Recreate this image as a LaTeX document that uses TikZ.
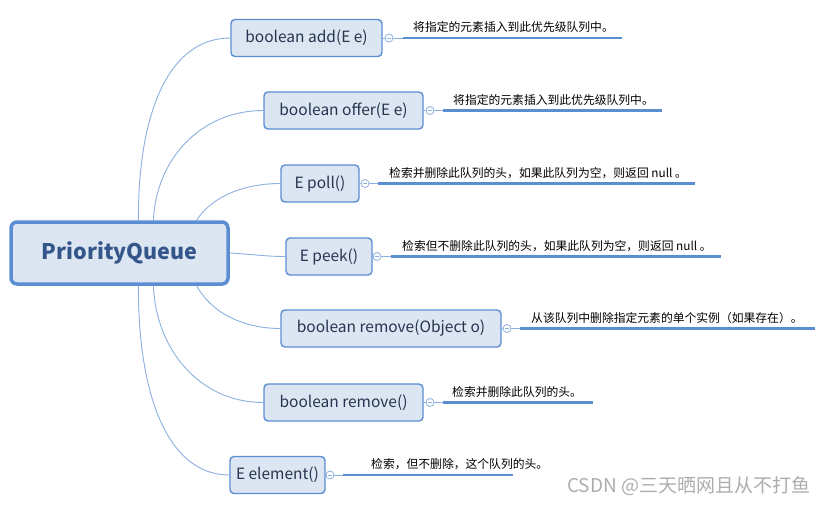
\documentclass[tikz,border=0pt]{standalone}
\usepackage{fontspec}
\setmainfont{Noto Sans CJK SC}
\usepackage{tikz}

\definecolor{boxfill}{HTML}{DCE6F2}
\definecolor{boxline}{HTML}{5B8DD3}
\definecolor{linkline}{HTML}{8CB0E0}
\definecolor{boxtext}{HTML}{26344F}
\definecolor{roottext}{HTML}{34558A}

\tikzset{
  rootbox/.style={draw=boxline, line width=3.5pt, fill=boxfill, rounded corners=6pt,
    inner sep=0pt, text=roottext, font=\fontsize{21.5}{25}\selectfont\bfseries},
  topic/.style={draw=boxline, line width=1.4pt, fill=boxfill, rounded corners=4pt,
    inner sep=0pt, minimum height=37pt, text=boxtext, font=\fontsize{15.5}{18}\selectfont},
  link/.style={draw=linkline, line width=0.9pt},
  fold/.style={circle, draw=linkline, fill=white, line width=0.8pt, minimum size=8pt, inner sep=0pt},
  underline/.style={draw=boxline, line width=2.4pt},
  note/.style={anchor=base west, inner sep=0pt, font=\fontsize{11.8}{14}\selectfont}
}

\begin{document}
\begin{tikzpicture}[x=1pt,y=-1pt]
\useasboundingbox (0,0) rectangle (834,504);

% root
\node[rootbox, minimum width=217pt, minimum height=62pt] (root) at (119.5,253) {PriorityQueue};

% methods
\node[topic, minimum width=151pt] (add) at (306.5,38) {boolean add(E e)};
\node[topic, minimum width=159pt] (offer) at (343.5,110.5) {boolean offer(E e)};
\node[topic, minimum width=78pt] (poll) at (320,183.5) {E poll()};
\node[topic, minimum width=86pt] (peek) at (329,256.5) {E peek()};
\node[topic, minimum width=220pt] (removeobj) at (391,328.5) {boolean remove(Object o)};
\node[topic, minimum width=159pt] (remove) at (343.5,402.5) {boolean remove()};
\node[topic, minimum width=95pt] (element) at (277.5,475) {E element()};

% branches
\draw[link] (root.60) .. controls (138,110) and (170,38) .. (add.west);
\draw[link] (root.44) .. controls (156,160) and (200,110.5) .. (offer.west);
\draw[link] (root.23) .. controls (212,196) and (245,183.5) .. (poll.west);
\draw[link] (root.east) .. controls (250,254) and (265,256.5) .. (peek.west);
\draw[link] (root.-23) .. controls (212,314) and (245,328.5) .. (removeobj.west);
\draw[link] (root.-44) .. controls (156,350) and (200,402.5) .. (remove.west);
\draw[link] (root.-60) .. controls (138,400) and (170,475) .. (element.west);

% fold marks
\node[fold] (addf) at (389,38) {};
\node[fold] (offerf) at (430,110.5) {};
\node[fold] (pollf) at (365,183.5) {};
\node[fold] (peekf) at (377,256.5) {};
\node[fold] (removeobjf) at (507,328.5) {};
\node[fold] (removef) at (430,402.5) {};
\node[fold] (elementf) at (330,475) {};
\foreach \f in {addf,offerf,pollf,peekf,removeobjf,removef,elementf}
  \draw[linkline, line width=0.8pt] ([xshift=-2pt]\f.center) -- ([xshift=2pt]\f.center);

\coordinate (addl) at (403,38);
\coordinate (addr) at (622,38);
\coordinate (offerl) at (443,110.5);
\coordinate (offerr) at (662,110.5);
\coordinate (polll) at (378,183.5);
\coordinate (pollr) at (695,183.5);
\coordinate (peekl) at (391,256.5);
\coordinate (peekr) at (721,256.5);
\coordinate (removeobjl) at (520,328.5);
\coordinate (removeobjr) at (815,328.5);
\coordinate (removel) at (443,402.5);
\coordinate (remover) at (593,402.5);
\coordinate (elementl) at (343,475);
\coordinate (elementr) at (513,475);

\foreach \m in {add,offer,poll,peek,removeobj,remove,element}{
  \draw[link] (\m.east) -- (\m f.west);
  \draw[link] (\m f.east) -- (\m l);
  \draw[underline] (\m l) -- (\m r);
}

% descriptions
\node[note] (addn) at (413,31.5) {将指定的元素插入到此优先级队列中。};
\node[note] (offern) at (453,104) {将指定的元素插入到此优先级队列中。};
\node[note] (polln) at (389,177) {检索并删除此队列的头，如果此队列为空，则返回 null 。};
\node[note] (peekn) at (402,250) {检索但不删除此队列的头，如果此队列为空，则返回 null 。};
\node[note] (removeobjn) at (531,322) {从该队列中删除指定元素的单个实例（如果存在）。};
\node[note] (removen) at (452,396) {检索并删除此队列的头。};
\node[note] (elementn) at (371,468.5) {检索，但不删除，这个队列的头。};

\node[anchor=base west, inner sep=0pt, text=black!32, font=\fontsize{19}{22}\selectfont] (mark) at (567,492) {CSDN @三天晒网且从不打鱼};
\end{tikzpicture}
\end{document}
